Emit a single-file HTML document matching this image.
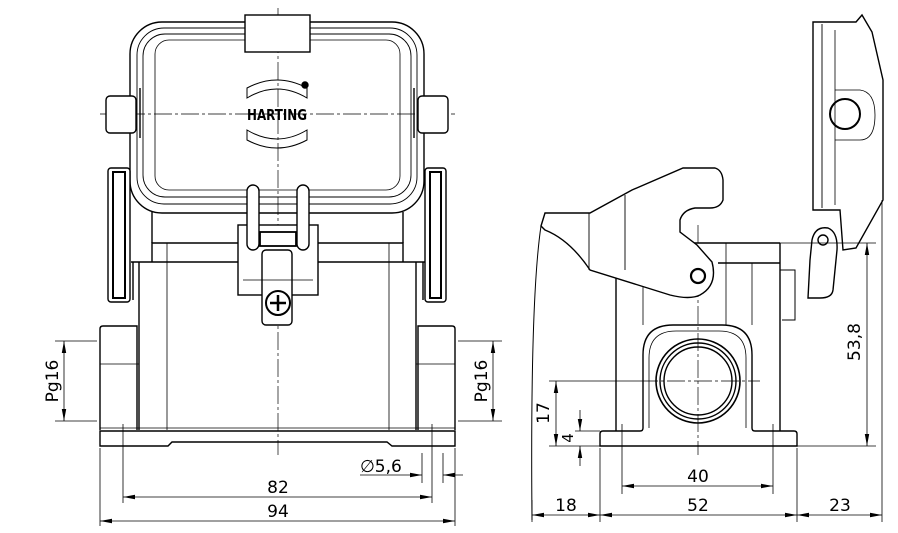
<!DOCTYPE html>
<html><head><meta charset="utf-8"><style>
html,body{margin:0;padding:0;background:#fff;}
svg{display:block;}
text{font-family:"DejaVu Sans","Liberation Sans",sans-serif;font-size:17px;fill:#000;}
</style></head><body>
<svg width="898" height="533" viewBox="0 0 898 533" xmlns="http://www.w3.org/2000/svg">
<defs>
<marker id="a" viewBox="0 0 12 6" refX="12" refY="3" markerWidth="12" markerHeight="6" orient="auto-start-reverse" markerUnits="userSpaceOnUse"><path d="M0,0.8 L12,3 L0,5.2z" fill="#000"/></marker>
</defs>
<g fill="none" stroke="#000" stroke-width="1.4">
<g stroke-width="0.7" stroke-dasharray="18,3,3,3">
<line x1="278" y1="8" x2="278" y2="455"/>
<line x1="100" y1="114" x2="455" y2="114"/>
</g>
<path d="M100,431 H455 V446 H392 L387,442 H172 L168,446 H100 Z"/>
<line x1="100" y1="428" x2="455" y2="428" stroke-width="0.8"/>
<path d="M100,430 V329 Q100,326 103,326 H137 V430"/>
<path d="M455,430 V329 Q455,326 452,326 H418 V430"/>
<line x1="100" y1="364" x2="139" y2="364" stroke-width="0.8"/>
<line x1="416" y1="364" x2="455" y2="364" stroke-width="0.8"/>
<path d="M139,430 V262 M152,262 V243 H403 V262 M416,262 V430"/>
<line x1="131" y1="262" x2="426" y2="262"/>
<line x1="133" y1="262" x2="133" y2="300"/>
<line x1="423" y1="262" x2="423" y2="300"/>
<line x1="167" y1="243" x2="167" y2="430" stroke-width="0.8"/>
<line x1="389" y1="243" x2="389" y2="430" stroke-width="0.8"/>
<line x1="152" y1="212" x2="152" y2="243"/>
<line x1="403" y1="212" x2="403" y2="243"/>
<rect x="130" y="22" width="294" height="191" rx="32"/>
<rect x="137" y="28" width="280" height="176" rx="27" stroke-width="0.9"/>
<rect x="143" y="34" width="268" height="163" rx="22" stroke-width="0.9"/>
<rect x="155" y="40" width="245" height="150" rx="14" stroke-width="0.8"/>
<rect x="245" y="15" width="65" height="37" fill="#fff"/>
<rect x="106" y="96" width="30" height="37" rx="4" fill="#fff"/>
<rect x="418" y="96" width="30" height="37" rx="4" fill="#fff"/>
<line x1="140" y1="88" x2="140" y2="138"/>
<line x1="414" y1="88" x2="414" y2="138"/>
<rect x="108" y="168" width="22" height="134" rx="3" fill="#fff"/>
<rect x="113" y="172" width="12" height="126" stroke-width="2"/>
<rect x="425" y="168" width="21" height="134" rx="3" fill="#fff"/>
<rect x="430" y="172" width="11" height="126" stroke-width="2"/>
<rect x="238" y="225" width="80" height="70" fill="#fff"/>
<rect x="247" y="185" width="12" height="65" rx="6" fill="#fff"/>
<rect x="297" y="185" width="12" height="65" rx="6" fill="#fff"/>
<rect x="260" y="232" width="36" height="14" stroke-width="1.8"/>
<rect x="262" y="250" width="30" height="75" rx="4" fill="#fff"/>
<circle cx="278" cy="303" r="12" fill="#fff" stroke-width="2"/>
<path d="M270,303 H286 M278,295 V311" stroke-width="2.5"/>
<line x1="243" y1="280" x2="313" y2="280" stroke-width="0.8"/>
<path d="M247,98 Q277,80 307,98 V88 Q277,72 247,88 Z" stroke-width="1"/>
<path d="M247,130 Q277,148 307,130 V140 Q277,156 247,140 Z" stroke-width="1"/>
<circle cx="305" cy="85" r="3" fill="#000"/>

<g stroke-width="0.7" stroke-dasharray="18,3,3,3">
<line x1="698" y1="225" x2="698" y2="455"/>
<line x1="640" y1="381" x2="760" y2="381"/>
</g>
<path d="M600,446 V434 Q600,431 603,431 H640 Q643,431 643,428 V355 Q643,325 673,325 H722 Q752,325 752,355 V428 Q752,431 755,431 H794 Q797,431 797,434 V446 Z"/>
<path d="M649,428 V358 Q649,331 676,331 H719 Q746,331 746,358 V428" stroke-width="0.8"/>
<line x1="616" y1="431" x2="616" y2="243"/>
<line x1="780" y1="431" x2="780" y2="243"/>
<line x1="643" y1="263" x2="643" y2="325" stroke-width="0.8"/>
<line x1="752" y1="263" x2="752" y2="325" stroke-width="0.8"/>
<line x1="680" y1="243" x2="780" y2="243"/>
<line x1="718" y1="263" x2="780" y2="263"/>
<line x1="726" y1="243" x2="726" y2="325" stroke-width="0.8"/>
<circle cx="698" cy="381" r="42" stroke-width="1.6"/>
<circle cx="698" cy="381" r="38"/>
<circle cx="698" cy="381" r="34"/>
<path d="M541,226 L545,213 H590 L632,190 L683,168 H715 Q722,170 723,180 V200 Q720,208 710,208 H695 Q683,210 680,220 V232 L697,245 L712,262 Q718,285 700,295 Q690,300 670,295 L590,270 Q570,240 545,230 Z" fill="#fff"/>
<line x1="625" y1="195" x2="625" y2="270" stroke-width="0.9"/>
<line x1="589" y1="213" x2="589" y2="270" stroke-width="0.9"/>
<circle cx="698" cy="276" r="7" stroke-width="2.2"/>
<path d="M541,226 Q530,300 532,520" stroke-width="1"/>
<path d="M813,22 H856 L862,15 L872,32 L883,80 V200 L856,248 L843,250 L840,210 H813 Z" fill="#fff"/>
<line x1="822" y1="24" x2="822" y2="208" stroke-width="0.9"/>
<line x1="835" y1="30" x2="835" y2="205" stroke-width="0.8"/>
<path d="M835,90 H860 Q875,92 875,115 Q875,140 860,140 H835" stroke-width="0.8"/>
<circle cx="845" cy="114" r="15" stroke-width="2"/>
<path d="M812,240 Q815,226 828,228 Q838,232 837,250 L833,290 Q832,298 820,298 H808 L810,260 Z" fill="#fff"/>
<circle cx="823" cy="240" r="5"/>
<path d="M780,270 H795 V320 H782" stroke-width="1"/>
</g>

<g fill="none" stroke="#000" stroke-width="0.8">
<line x1="55" y1="341" x2="97" y2="341"/><line x1="55" y1="421" x2="97" y2="421"/>
<line x1="64" y1="341" x2="64" y2="421" marker-start="url(#a)" marker-end="url(#a)"/>
<line x1="458" y1="341" x2="502" y2="341"/><line x1="458" y1="421" x2="502" y2="421"/>
<line x1="493" y1="341" x2="493" y2="421" marker-start="url(#a)" marker-end="url(#a)"/>
<line x1="123" y1="424" x2="123" y2="503"/><line x1="432" y1="424" x2="432" y2="503"/>
<line x1="100" y1="448" x2="100" y2="526"/><line x1="455" y1="448" x2="455" y2="526"/>
<line x1="123" y1="497" x2="432" y2="497" marker-start="url(#a)" marker-end="url(#a)"/>
<line x1="100" y1="521" x2="455" y2="521" marker-start="url(#a)" marker-end="url(#a)"/>
<line x1="422" y1="453" x2="422" y2="483"/><line x1="443" y1="453" x2="443" y2="483"/>
<line x1="360" y1="475" x2="422" y2="475" marker-end="url(#a)"/>
<line x1="463" y1="475" x2="443" y2="475" marker-end="url(#a)"/>
<line x1="549" y1="381" x2="640" y2="381"/>
<line x1="549" y1="446" x2="600" y2="446"/>
<line x1="575" y1="431" x2="600" y2="431"/>
<line x1="556" y1="381" x2="556" y2="446" marker-start="url(#a)" marker-end="url(#a)"/>
<line x1="580" y1="410" x2="580" y2="431" marker-end="url(#a)"/>
<line x1="580" y1="466" x2="580" y2="446" marker-end="url(#a)"/>
<line x1="622" y1="424" x2="622" y2="494"/><line x1="773" y1="424" x2="773" y2="494"/>
<line x1="622" y1="486" x2="773" y2="486" marker-start="url(#a)" marker-end="url(#a)"/>
<line x1="532" y1="500" x2="532" y2="522"/>
<line x1="600" y1="448" x2="600" y2="522"/>
<line x1="797" y1="448" x2="797" y2="522"/>
<line x1="882" y1="200" x2="882" y2="522"/>
<line x1="532" y1="515" x2="600" y2="515" marker-start="url(#a)" marker-end="url(#a)"/>
<line x1="600" y1="515" x2="797" y2="515" marker-start="url(#a)" marker-end="url(#a)"/>
<line x1="797" y1="515" x2="882" y2="515" marker-start="url(#a)" marker-end="url(#a)"/>
<line x1="780" y1="243" x2="876" y2="243"/>
<line x1="797" y1="446" x2="876" y2="446"/>
<line x1="867" y1="243" x2="867" y2="446" marker-start="url(#a)" marker-end="url(#a)"/>
</g>
<g>
<text x="62" y="381" text-anchor="middle" transform="rotate(-90 62 381)" dy="-4">Pg16</text>
<text x="491" y="381" text-anchor="middle" transform="rotate(-90 491 381)" dy="-4">Pg16</text>
<text x="278" y="493" text-anchor="middle">82</text>
<text x="278" y="517" text-anchor="middle">94</text>
<text x="360" y="472">∅5,6</text>
<text x="553" y="413" text-anchor="middle" transform="rotate(-90 553 413)" dy="-4">17</text>
<text x="577" y="438" text-anchor="middle" transform="rotate(-90 577 438)" dy="-4" style="font-size:15px">4</text>
<text x="698" y="482" text-anchor="middle">40</text>
<text x="566" y="511" text-anchor="middle">18</text>
<text x="698" y="511" text-anchor="middle">52</text>
<text x="840" y="511" text-anchor="middle">23</text>
<text x="864" y="342" text-anchor="middle" transform="rotate(-90 864 342)" dy="-4">53,8</text>
<text x="277" y="120" text-anchor="middle" textLength="60" lengthAdjust="spacingAndGlyphs" style="font-size:15px;font-weight:bold">HARTING</text>
</g>
</svg>
</body></html>
